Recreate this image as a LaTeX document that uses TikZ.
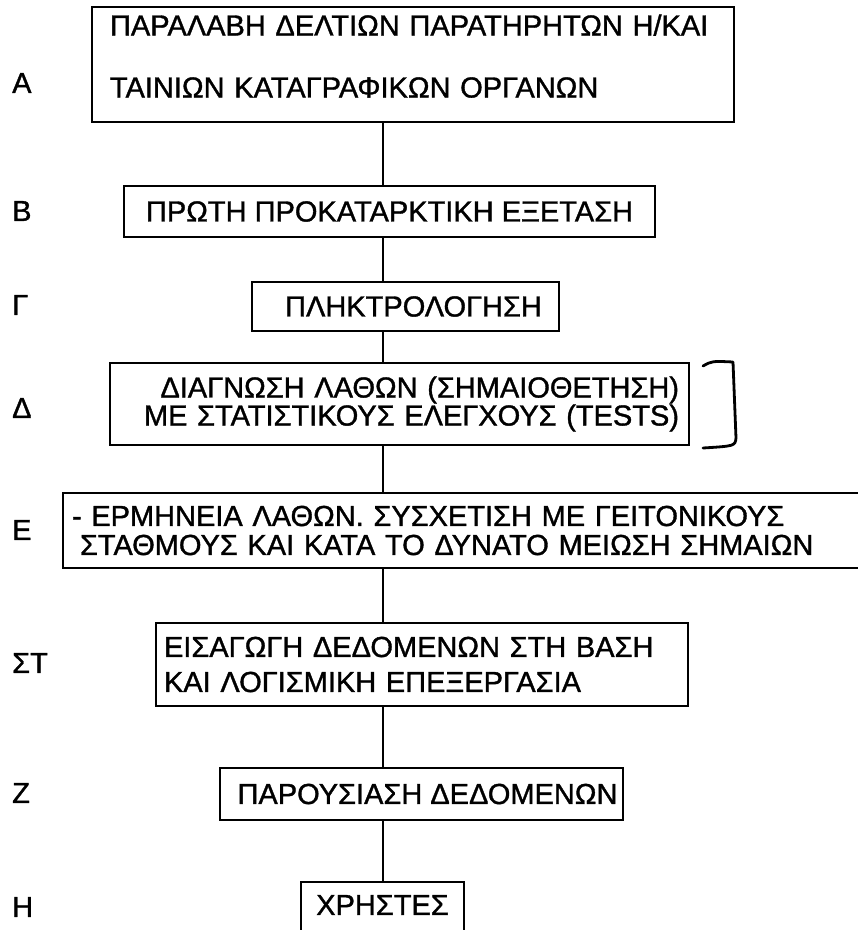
\documentclass[tikz,border=0pt]{standalone}
\usepackage{fontspec}
\setmainfont{Liberation Sans}[FakeBold=1.2]
\begin{document}
\begin{tikzpicture}[x=1pt,y=-1pt,
	box/.style={draw,rectangle,line width=2.6pt,inner sep=0pt,font=\fontsize{29}{34}\selectfont},
	tag/.style={anchor=west,inner sep=0pt,font=\fontsize{29}{34}\selectfont},
	link/.style={line width=2pt},
	brace/.style={line width=2.8pt,line cap=round,line join=round}]
				\useasboundingbox (0,0) rectangle (858,930);
				\coordinate (spine) at (383,0);
				% stages
				\node[box,minimum width=642pt,minimum height=115pt,text width=606pt,align=left] (A) at (413,64.5) {ΠΑΡΑΛΑΒΗ ΔΕΛΤΙΩΝ ΠΑΡΑΤΗΡΗΤΩΝ Η/ΚΑΙ\\[28pt]ΤΑΙΝΙΩΝ ΚΑΤΑΓΡΑΦΙΚΩΝ ΟΡΓΑΝΩΝ\rule[-17pt]{0pt}{0pt}};
				\node[box,minimum width=531pt,minimum height=51pt] (B) at (389.5,211.5) {ΠΡΩΤΗ ΠΡΟΚΑΤΑΡΚΤΙΚΗ ΕΞΕΤΑΣΗ};
				\node[box,minimum width=307pt,minimum height=49pt] (G) at (405.5,306.5) {\hspace*{16pt}ΠΛΗΚΤΡΟΛΟΓΗΣΗ};
				\node[box,minimum width=579pt,minimum height=82pt,text width=559pt,align=right,font=\fontsize{29}{28}\selectfont] (D) at (399.5,404) {ΔΙΑΓΝΩΣΗ ΛΑΘΩΝ (ΣΗΜΑΙΟΘΕΤΗΣΗ)\\ΜΕ ΣΤΑΤΙΣΤΙΚΟΥΣ ΕΛΕΓΧΟΥΣ (TESTS)};
				\node[box,minimum width=812pt,minimum height=75pt,text width=794pt,align=left,font=\fontsize{29}{29}\selectfont] (E) at (469,530.5) {- ΕΡΜΗΝΕΙΑ ΛΑΘΩΝ. ΣΥΣΧΕΤΙΣΗ ΜΕ ΓΕΙΤΟΝΙΚΟΥΣ\\\hspace*{8pt}ΣΤΑΘΜΟΥΣ ΚΑΙ ΚΑΤΑ ΤΟ ΔΥΝΑΤΟ ΜΕΙΩΣΗ ΣΗΜΑΙΩΝ};
				\node[box,minimum width=532pt,minimum height=83pt,text width=516pt,align=left,font=\fontsize{29}{35}\selectfont] (ST) at (422,664.5) {ΕΙΣΑΓΩΓΗ ΔΕΔΟΜΕΝΩΝ ΣΤΗ ΒΑΣΗ\\ΚΑΙ ΛΟΓΙΣΜΙΚΗ ΕΠΕΞΕΡΓΑΣΙΑ};
				\node[box,minimum width=403pt,minimum height=52pt] (Z) at (421.5,794) {\hspace*{12pt}ΠΑΡΟΥΣΙΑΣΗ ΔΕΔΟΜΕΝΩΝ};
				\node[box,minimum width=163pt,minimum height=70pt] (H) at (382.5,917) {ΧΡΗΣΤΕΣ\rule[-24pt]{0pt}{0pt}};
				% letters on the left
				\node[tag] (tA) at (12,83) {Α};
				\node[tag] (tB) at (12,211) {Β};
				\node[tag] (tG) at (12,305) {Γ};
				\node[tag] (tD) at (12,408) {Δ};
				\node[tag] (tE) at (12,530) {Ε};
				\node[tag] (tST) at (12,663) {ΣΤ};
				\node[tag] (tZ) at (12,793) {Ζ};
				\node[tag] (tH) at (12,907) {Η};
				% the one line down
				\foreach \a/\b in {A/B,B/G,G/D,D/E,E/ST,ST/Z,Z/H}
					\draw[link] (\a.south -| spine) -- (\b.north -| spine);
				% bracket beside D
				\draw[brace] (703,366) .. controls (712,361) .. (733,362) -- (736,438) .. controls (735,446) .. (703,448);
			\end{tikzpicture}
\end{document}
